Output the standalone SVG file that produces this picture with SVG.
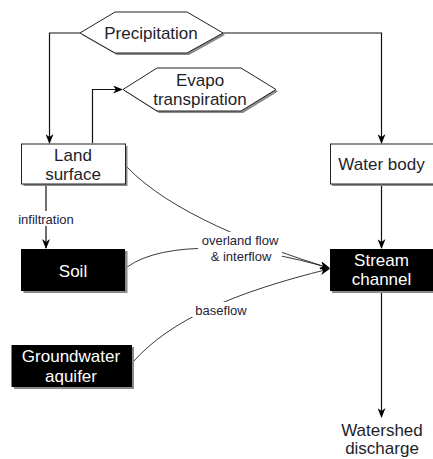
<svg xmlns="http://www.w3.org/2000/svg" width="433" height="459" viewBox="0 0 433 459">
<style>
.lbl{font-family:"Liberation Sans",Arial,sans-serif;font-size:17px;fill:#1e1e2a;text-anchor:middle}
.wt{fill:#ffffff}
.sm{font-family:"Liberation Sans",Arial,sans-serif;font-size:13px;fill:#22223a;text-anchor:middle}
.box{fill:#ffffff;stroke:#222;stroke-width:1}
.dbox{fill:#000;stroke:#000;stroke-width:1}
.shd{fill:#8a8a8a}
.ln{fill:none;stroke:#111;stroke-width:1.2}
.cv{fill:none;stroke:#222;stroke-width:0.9}
</style>
<defs>
<marker id="ah" viewBox="0 0 10 8" refX="9" refY="4" markerWidth="10" markerHeight="8" markerUnits="userSpaceOnUse" orient="auto">
<path d="M0,0 L10,4 L0,8 L3,4 z" fill="#000"/>
</marker>
</defs>
<g id="connectors">
<polyline class="ln" points="80,33 49.5,33 49.5,143" marker-end="url(#ah)"/>
<polyline class="ln" points="223,33 381.5,33 381.5,143" marker-end="url(#ah)"/>
<polyline class="ln" points="92.5,143 92.5,89.5 122,89.5" marker-end="url(#ah)"/>
<line class="ln" x1="46" y1="186" x2="46" y2="248" marker-end="url(#ah)"/>
<line class="ln" x1="381.5" y1="186" x2="381.5" y2="248" marker-end="url(#ah)"/>
<line class="ln" x1="381.5" y1="293" x2="381.5" y2="417" marker-end="url(#ah)"/>
<path class="cv" d="M127,167 C170,212 255,245 329,268" marker-end="url(#ah)"/>
<path class="cv" d="M127,267 C165,240 250,244 329,268" marker-end="url(#ah)"/>
<path class="cv" d="M133,362 C170,320 235,292 329,269" marker-end="url(#ah)"/>
<rect x="17" y="211" width="58" height="15" fill="#fff"/>
<text class="sm" x="46" y="223.5">infiltration</text>
<rect x="198" y="232" width="84" height="32" fill="#fff"/>
<text class="sm" x="240" y="245">overland flow</text>
<text class="sm" x="241" y="260.5">&amp; interflow</text>
<rect x="192" y="302" width="58" height="15" fill="#fff"/>
<text class="sm" x="221" y="314.5">baseflow</text>
</g>
<g id="precipitation">
<polygon class="shd" points="82,35 117,14 189,14 225,35 189,55 117,55"/>
<polygon class="box" points="80,33 115,12 187,12 223,33 187,53 115,53"/>
<text class="lbl" x="151" y="39">Precipitation</text>
</g>
<g id="evapotranspiration">
<polygon class="shd" points="125,91.5 159,70 243,70 278,91.5 243,113 159,113"/>
<polygon class="box" points="123,89.5 157,68 241,68 276,89.5 241,111 157,111"/>
<text class="lbl" x="200" y="86">Evapo</text>
<text class="lbl" x="200" y="105">transpiration</text>
</g>
<g id="land-surface">
<rect class="shd" x="23.5" y="146" width="104" height="40"/>
<rect class="box" x="21.5" y="144" width="104" height="40"/>
<text class="lbl" x="73" y="161">Land</text>
<text class="lbl" x="73" y="180">surface</text>
</g>
<g id="water-body">
<rect class="shd" x="332" y="146" width="104" height="40"/>
<rect class="box" x="330.5" y="144" width="104" height="40"/>
<text class="lbl" x="381.5" y="170">Water body</text>
</g>
<g id="soil">
<rect class="shd" x="23.5" y="251" width="104" height="42"/>
<rect class="dbox" x="21.5" y="249.5" width="103" height="41"/>
<text class="lbl wt" x="73" y="277">Soil</text>
</g>
<g id="stream-channel">
<rect class="shd" x="332" y="251" width="104" height="42"/>
<rect class="dbox" x="330.5" y="249.5" width="104" height="41"/>
<text class="lbl wt" x="381.5" y="266">Stream</text>
<text class="lbl wt" x="381.5" y="285">channel</text>
</g>
<g id="groundwater-aquifer">
<rect class="shd" x="14" y="347" width="120" height="42"/>
<rect class="dbox" x="12" y="345.5" width="119.5" height="41"/>
<text class="lbl wt" x="71" y="362">Groundwater</text>
<text class="lbl wt" x="71" y="382">aquifer</text>
</g>
<g id="watershed-discharge">
<text class="lbl" x="382" y="436">Watershed</text>
<text class="lbl" x="382" y="454">discharge</text>
</g>
</svg>
